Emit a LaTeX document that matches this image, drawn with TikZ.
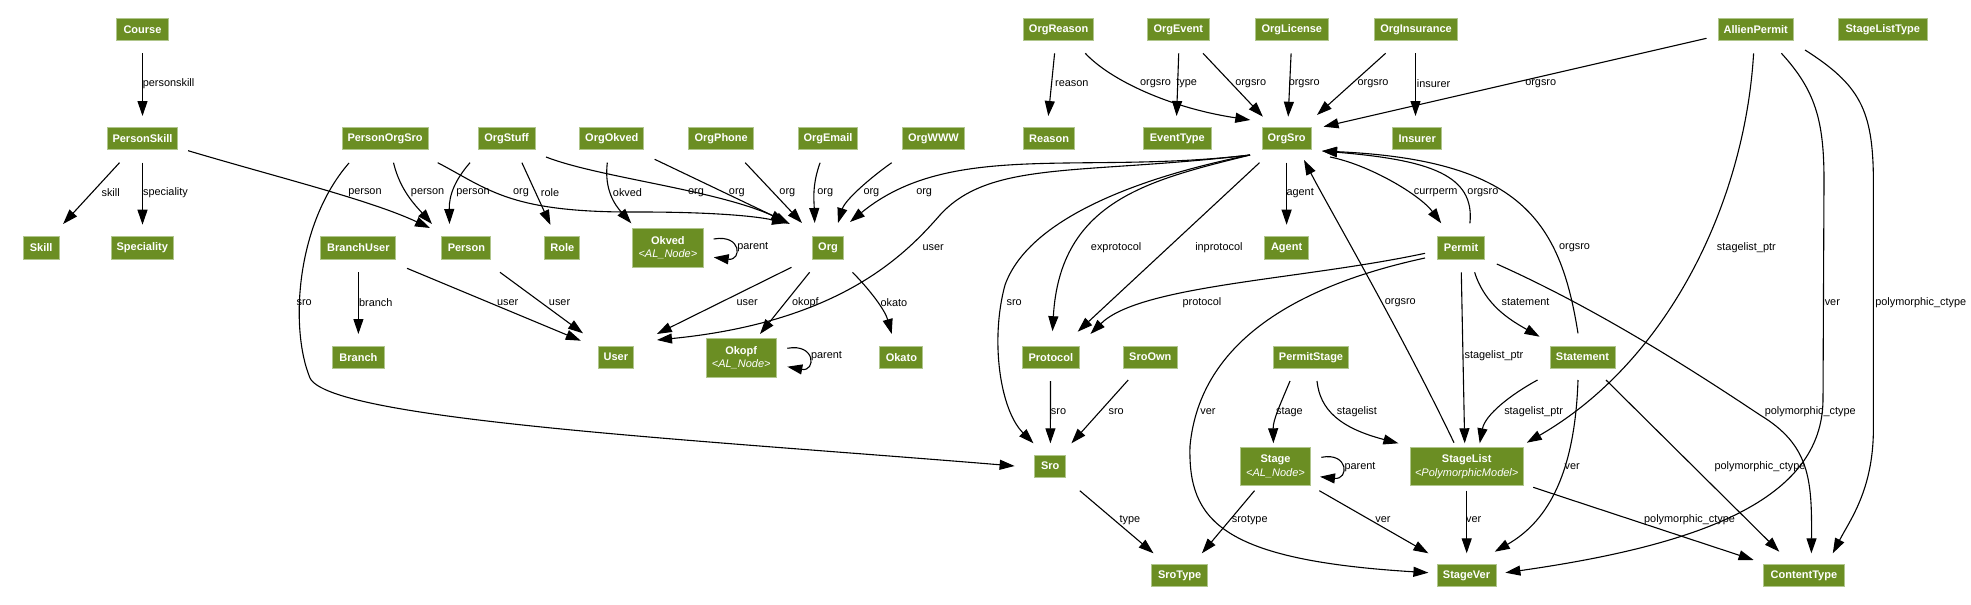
\documentclass[tikz,border=0pt]{standalone}
\usepackage{fontspec}
\setmainfont{Liberation Sans}
\usetikzlibrary{arrows.meta,calc}
\definecolor{boxfill}{RGB}{107,142,35}
\definecolor{boxline}{RGB}{176,198,140}
\begin{document}
\begin{tikzpicture}[x=1pt,y=-1pt,
  box/.style={fill=boxfill, draw=boxline, line width=0.9pt, text=white,
    font=\fontsize{11}{13.6}\selectfont\bfseries, inner sep=0pt,
    minimum height=22.4pt, align=center},
  box2/.style={box, minimum height=38.5pt},
  e/.style={line width=1.1pt, -{Triangle[length=15pt,width=10pt]}},
  lb/.style={font=\fontsize{10.9}{12}\selectfont, inner sep=0pt, anchor=west}]
\fill[white] (0,0) rectangle (1971,605);
\useasboundingbox (0,0) rectangle (1971,605);
\newcommand{\sub}[1]{\\{\normalfont\itshape\fontsize{11}{13.6}\selectfont #1}}
% row 1
\node[box, minimum width=52pt] (course) at (142.5,29.5) {Course};
\node[box, minimum width=70pt] (orgreason) at (1058.6,29.5) {OrgReason};
\node[box, minimum width=61.5pt] (orgevent) at (1178.3,29.5) {OrgEvent};
\node[box, minimum width=73pt] (orglicense) at (1291.8,29.5) {OrgLicense};
\node[box, minimum width=83pt] (orginsurance) at (1416,29.5) {OrgInsurance};
\node[box, minimum width=75pt] (allienpermit) at (1755.7,29.5) {AllienPermit};
\node[box, minimum width=89pt] (stagelisttype) at (1882.8,29.5) {StageListType};
% row 2
\node[box, minimum width=70pt] (personskill) at (142.5,138.5) {PersonSkill};
\node[box, minimum width=86pt] (personorgsro) at (385.1,138.5) {PersonOrgSro};
\node[box, minimum width=57pt] (orgstuff) at (506.6,138.5) {OrgStuff};
\node[box, minimum width=64pt] (orgokved) at (611.8,138.5) {OrgOkved};
\node[box, minimum width=65pt] (orgphone) at (721.2,138.5) {OrgPhone};
\node[box, minimum width=59pt] (orgemail) at (828,138.5) {OrgEmail};
\node[box, minimum width=62pt] (orgwww) at (933.4,138.5) {OrgWWW};
\node[box, minimum width=51pt] (reason) at (1049.1,138.5) {Reason};
\node[box, minimum width=68pt] (eventtype) at (1177.3,138.5) {EventType};
\node[box, minimum width=49pt] (orgsro) at (1286.6,138.5) {OrgSro};
\node[box, minimum width=49pt] (insurer) at (1417.2,138.5) {Insurer};
% row 3
\node[box, minimum width=36pt] (skill) at (41.2,247.8) {Skill};
\node[box, minimum width=61.5pt] (speciality) at (142.3,247.8) {Speciality};
\node[box, minimum width=75pt] (branchuser) at (358.4,247.8) {BranchUser};
\node[box, minimum width=49pt] (person) at (466.4,247.8) {Person};
\node[box, minimum width=35pt] (role) at (562.3,247.8) {Role};
\node[box2, minimum width=70.5pt] (okved) at (667.9,247.8) {Okved\sub{<AL\_Node>}};
\node[box, minimum width=31pt] (org) at (828,247.8) {Org};
\node[box, minimum width=44pt] (agent) at (1286.6,247.8) {Agent};
\node[box, minimum width=46.6pt] (permit) at (1461.1,247.8) {Permit};
% row 4
\node[box, minimum width=52pt] (branch) at (358.4,357.2) {Branch};
\node[box, minimum width=35pt] (user) at (615.8,357.2) {User};
\node[box2, minimum width=70pt] (okopf) at (741.2,357.8) {Okopf\sub{<AL\_Node>}};
\node[box, minimum width=43pt] (okato) at (901.4,357.2) {Okato};
\node[box, minimum width=56.4pt] (protocol) at (1050.8,357.2) {Protocol};
\node[box, minimum width=53.4pt] (sroown) at (1150.3,357.2) {SroOwn};
\node[box, minimum width=75pt] (permitstage) at (1311,357.2) {PermitStage};
\node[box, minimum width=65pt] (statement) at (1582.5,357.2) {Statement};
% row 5
\node[box, minimum width=31pt] (sro) at (1050.2,466.2) {Sro};
\node[box2, minimum width=70.5pt] (stage) at (1275.5,466.5) {Stage\sub{<AL\_Node>}};
\node[box2, minimum width=112.6pt] (stagelist) at (1466.7,466.5) {StageList\sub{<PolymorphicModel>}};
% row 6
\node[box, minimum width=56pt] (srotype) at (1179.6,575.7) {SroType};
\node[box, minimum width=59pt] (stagever) at (1466.5,575.7) {StageVer};
\node[box, minimum width=81pt] (contenttype) at (1803.9,575.7) {ContentType};

% edges
\draw[e] ($(course)+(0,23.5)$) -- ($(personskill)+(0,-22.5)$) node[lb] at (142.3,83.3) {personskill};
\draw[e] ($(personskill)+(-23,24.2)$) -- ($(skill)+(21.9,-23.8)$) node[lb] at (101,192.3) {skill};
\draw[e] ($(personskill)+(0,24.2)$) -- ($(speciality)+(0.2,-23.1)$) node[lb] at (142.5,192.3) {speciality};
\draw[e] ($(personskill)+(45.6,12.2)$) .. controls (280,178) and (370,200) .. ($(person)+(-36.4,-19.8)$) node[lb] at (347.7,192.3) {person};
\draw[e] ($(personorgsro)+(8.4,24.2)$) .. controls (400,190) and (415,205) .. ($(person)+(-34.4,-23.8)$) node[lb] at (410.4,192.3) {person};
\draw[e] ($(personorgsro)+(52.6,24.2)$) .. controls (490,190) and (510,213) .. (640,212) .. controls (700,212) and (750,215) .. ($(org)+(-41,-24.8)$) node[lb] at (512.6,192.3) {org};
\draw[e] ($(personorgsro)+(-36.1,24.5)$) .. controls (295,225) and (290,330) .. (310,378) .. controls (330,420) and (700,440) .. ($(sro)+(-35.6,-0.2)$) node[lb] at (296,302.3) {sro};
\draw[e] ($(orgstuff)+(-36.6,24.2)$) .. controls (455,180) and (449,195) .. ($(person)+(-16.9,-23.8)$) node[lb] at (455.8,192.3) {person};
\draw[e] ($(orgstuff)+(15.3,24.2)$) -- ($(role)+(-11.8,-22.8)$) node[lb] at (540.4,192.3) {role};
\draw[e] ($(orgstuff)+(39.4,18.5)$) .. controls (600,178) and (720,190) .. ($(org)+(-38,-23.8)$) node[lb] at (687.6,192.3) {org};
\draw[e] ($(orgokved)+(-4.5,24.2)$) .. controls (604,190) and (615,205) .. ($(okved)+(-36.6,-24.5)$) node[lb] at (612.4,192.3) {okved};
\draw[e] ($(orgokved)+(42.9,20.8)$) -- ($(org)+(-42,-25.8)$) node[lb] at (728.4,192.3) {org};
\draw[e] ($(orgphone)+(24,24.2)$) -- ($(org)+(-26,-24.8)$) node[lb] at (778.9,192.3) {org};
\draw[e] ($(orgemail)+(-7.9,24.2)$) .. controls (812,185) and (814,200) .. ($(org)+(-13.3,-24.8)$) node[lb] at (816.8,192.3) {org};
\draw[e] ($(orgwww)+(-41.7,24.2)$) .. controls (870,178) and (845,200) .. ($(org)+(10,-24.8)$) node[lb] at (863,192.3) {org};
\draw[e] ($(orgsro)+(-36.6,16.5)$) .. controls (1080,175) and (950,140) .. ($(org)+(22,-25.8)$) node[lb] at (915.7,192.3) {org};
\draw[e] ($(orgsro)+(-36.6,16.5)$) .. controls (1080,175) and (990,160) .. (940,215) .. controls (905,255) and (840,322) .. ($(user)+(41.2,-17.2)$) node[lb] at (922,247.3) {user};
\draw[e] ($(okved)+(45.8,-8.8)$) .. controls (742,234) and (742,261) .. ($(okved)+(45.8,9.5)$) node[lb] at (736.8,247.3) {parent};
\draw[e] ($(branchuser)+(0,24.5)$) -- ($(branch)+(0,-23.2)$) node[lb] at (358.6,302.3) {branch};
\draw[e] ($(branchuser)+(48.6,20.5)$) -- ($(user)+(-35,-16.5)$) node[lb] at (496.6,302.3) {user};
\draw[e] ($(person)+(33.6,24.5)$) -- ($(user)+(-32.8,-23.9)$) node[lb] at (548.4,302.3) {user};
\draw[e] ($(org)+(-36.5,19.5)$) -- ($(user)+(41,-23.2)$) node[lb] at (736,302.3) {user};
\draw[e] ($(org)+(-18.4,24.5)$) -- ($(okopf)+(18.8,-23.8)$) node[lb] at (791.5,302.3) {okopf};
\draw[e] ($(org)+(24.5,24.5)$) .. controls (870,290) and (885,310) .. ($(okato)+(-9.7,-23.2)$) node[lb] at (880,302.3) {okato};
\draw[e] ($(okopf)+(46.1,-9.5)$) .. controls (816,343) and (816,372) .. ($(okopf)+(46.1,8.9)$) node[lb] at (810.5,355.7) {parent};
\draw[e] ($(orgreason)+(-4,23.8)$) -- ($(reason)+(-0.8,-22.5)$) node[lb] at (1054.6,83.3) {reason};
\draw[e] ($(orgreason)+(26.7,23.8)$) .. controls (1110,80) and (1170,108) .. ($(orgsro)+(-36.3,-18.5)$) node[lb] at (1139.6,83.3) {orgsro};
\draw[e] ($(orgevent)+(0.4,23.8)$) -- ($(eventtype)+(-0.7,-22.5)$) node[lb] at (1175.8,83.3) {type};
\draw[e] ($(orgevent)+(24.7,23.8)$) -- ($(orgsro)+(-23.7,-21.8)$) node[lb] at (1234.7,83.3) {orgsro};
\draw[e] ($(orglicense)+(-0.7,23.8)$) -- ($(orgsro)+(1.6,-21.8)$) node[lb] at (1288.2,83.3) {orgsro};
\draw[e] ($(orginsurance)+(-30.4,23.8)$) -- ($(orgsro)+(30.4,-23.5)$) node[lb] at (1357,83.3) {orgsro};
\draw[e] ($(orginsurance)+(-0.5,23.8)$) -- ($(insurer)+(-1.7,-22.5)$) node[lb] at (1416.4,83.3) {insurer};
\draw[e] ($(allienpermit)+(-49.2,8.8)$) -- ($(orgsro)+(36.9,-11.8)$) node[lb] at (1524.7,83.3) {orgsro};
\draw[e] ($(allienpermit)+(-2.1,23.8)$) .. controls (1745,200) and (1670,360) .. ($(stagelist)+(60.1,-23.8)$) node[lb] at (1716.4,247.3) {stagelist\_ptr};
\draw[e] ($(allienpermit)+(25.7,23.8)$) .. controls (1815,90) and (1824,120) .. (1824,180) -- (1823,400) .. controls (1822,500) and (1700,545) .. ($(stagever)+(38.9,-3)$) node[lb] at (1824.2,302.3) {ver};
\draw[e] ($(allienpermit)+(49.3,20.5)$) .. controls (1860,85) and (1873,110) .. (1873.4,180) -- (1873.4,430) .. controls (1873,490) and (1850,520) .. ($(contenttype)+(28.9,-22.4)$) node[lb] at (1874.7,302.3) {polymorphic\_ctype};
\draw[e] ($(orgsro)+(-36.6,16.5)$) .. controls (1150,175) and (1030,215) .. (1005,285) .. controls (990,340) and (1000,410) .. ($(sro)+(-16.7,-22.9)$) node[lb] at (1006,302.3) {sro};
\draw[e] ($(orgsro)+(-36.6,16.5)$) .. controls (1150,180) and (1060,200) .. ($(protocol)+(1.7,-26)$) node[lb] at (1090.4,247.3) {exprotocol};
\draw[e] ($(orgsro)+(-27.1,24.2)$) -- ($(protocol)+(26.9,-25.5)$) node[lb] at (1194.7,247.3) {inprotocol};
\draw[e] ($(orgsro)+(0,24.2)$) -- ($(agent)+(0,-23.1)$) node[lb] at (1286,192.7) {agent};
\draw[e] ($(orgsro)+(43.4,18.5)$) .. controls (1370,165) and (1420,195) .. ($(permit)+(-19.9,-24.5)$) node[lb] at (1413.4,192.7) {currperm};
\draw[e] ($(permit)+(8.8,-24.5)$) .. controls (1475,175) and (1430,160) .. ($(orgsro)+(35.4,12.5)$) node[lb] at (1466.9,192.7) {orgsro};
\draw[e] ($(statement)+(-4.5,-23.9)$) .. controls (1560,220) and (1520,160) .. ($(orgsro)+(35.4,12.5)$) node[lb] at (1558.5,247.3) {orgsro};
\draw[e] ($(stagelist)+(-12.7,-23.8)$) .. controls (1400,330) and (1330,210) .. ($(orgsro)+(17.4,21.5)$) node[lb] at (1384.3,302.3) {orgsro};
\draw[e] ($(permit)+(-36.1,5.5)$) .. controls (1300,280) and (1140,285) .. ($(protocol)+(39.6,-23.2)$) node[lb] at (1182,302.3) {protocol};
\draw[e] ($(permit)+(-36.1,10.2)$) .. controls (1300,285) and (1200,340) .. (1190,446) .. controls (1188,520) and (1220,560) .. ($(stagever)+(-38.1,-3)$) node[lb] at (1199.8,411.7) {ver};
\draw[e] ($(permit)+(0.2,24.5)$) -- ($(stagelist)+(-2,-23.2)$) node[lb] at (1464,355.7) {stagelist\_ptr};
\draw[e] ($(permit)+(13.5,24.5)$) .. controls (1485,305) and (1510,320) .. ($(statement)+(-42.9,-20.5)$) node[lb] at (1501,302.3) {statement};
\draw[e] ($(permit)+(35.7,16.2)$) .. controls (1600,310) and (1700,375) .. (1760,415) .. controls (1810,445) and (1812,480) .. ($(contenttype)+(7.5,-22.4)$) node[lb] at (1764.3,411.7) {polymorphic\_ctype};
\draw[e] ($(statement)+(-45,22.8)$) .. controls (1510,395) and (1485,415) .. ($(stagelist)+(13,-23.2)$) node[lb] at (1503.7,411.7) {stagelist\_ptr};
\draw[e] ($(statement)+(-4.5,22.8)$) .. controls (1575,470) and (1550,520) .. ($(stagever)+(28.2,-24)$) node[lb] at (1564,466.7) {ver};
\draw[e] ($(statement)+(23.5,22.8)$) -- ($(contenttype)+(-24.6,-24)$) node[lb] at (1714,466.7) {polymorphic\_ctype};
\draw[e] ($(permitstage)+(-21,23.8)$) .. controls (1280,405) and (1273,420) .. ($(stage)+(-2.1,-23.2)$) node[lb] at (1275.5,411.7) {stage};
\draw[e] ($(permitstage)+(6,23.8)$) .. controls (1320,410) and (1340,428) .. ($(stagelist)+(-68.3,-23.2)$) node[lb] at (1336.4,411.7) {stagelist};
\draw[e] ($(stage)+(45.9,-9.2)$) .. controls (1349,452) and (1349,480) .. ($(stage)+(44.5,10.2)$) node[lb] at (1344,466.7) {parent};
\draw[e] ($(stage)+(-21,24.2)$) -- ($(srotype)+(22.3,-22.4)$) node[lb] at (1231.3,520) {srotype};
\draw[e] ($(stage)+(43.8,24.2)$) -- ($(stagever)+(-38.1,-22.4)$) node[lb] at (1374.9,520) {ver};
\draw[e] ($(stagelist)+(0,24.2)$) -- ($(stagever)+(0.2,-22.4)$) node[lb] at (1465.6,520) {ver};
\draw[e] ($(stagelist)+(66.5,20.8)$) -- ($(contenttype)+(-50.3,-15.7)$) node[lb] at (1643.6,520) {polymorphic\_ctype};
\draw[e] ($(protocol)+(-0.3,23.8)$) -- ($(sro)+(0.2,-22.9)$) node[lb] at (1050.4,411.7) {sro};
\draw[e] ($(sroown)+(-22.1,22.8)$) -- ($(sro)+(21.2,-22.9)$) node[lb] at (1108,411.7) {sro};
\draw[e] ($(sro)+(29.6,24.5)$) -- ($(srotype)+(-26.1,-22.4)$) node[lb] at (1119,520) {type};
\end{tikzpicture}
\end{document}
